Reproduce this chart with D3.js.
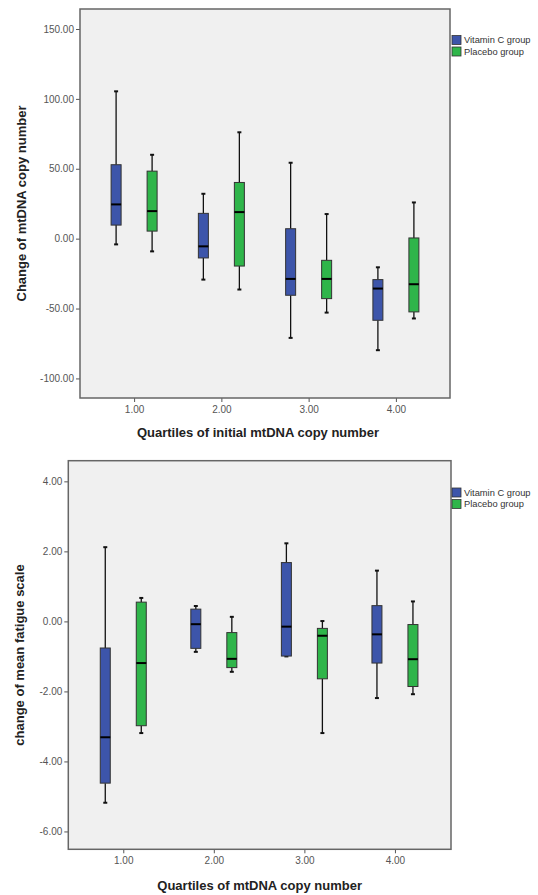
<!DOCTYPE html>
<html>
<head>
<meta charset="utf-8">
<script src="https://cdn.jsdelivr.net/npm/d3@7"></script>
<style>
  html, body { margin: 0; padding: 0; background: #fff; }
  svg { display: block; font-family: "Liberation Sans", Arial, sans-serif; }
</style>
</head>
<body>
<svg id="chart" width="538" height="895"></svg>
<script>
// ---- DATA ----
const categories = [1, 2, 3, 4];
const groups = ["Vitamin C group", "Placebo group"];
// each entry: [min, q1, median, q3, max]
const topVitaminC = [
  [-4.1, 9.7, 24.5, 52.9, 105.4],
  [-29.3, -13.8, -5.5, 18.1, 32.1],
  [-71.0, -40.5, -28.8, 7.1, 54.3],
  [-79.8, -58.4, -35.7, -29.3, -20.5]
];
const topPlacebo = [
  [-9.1, 5.4, 19.7, 48.3, 60.0],
  [-36.4, -19.6, 19.0, 40.2, 76.1],
  [-52.9, -42.9, -28.8, -15.5, 17.6],
  [-57.1, -52.4, -32.6, 0.5, 25.9]
];
const topYTicks = [-100, -50, 0, 50, 100, 150];
const bottomVitaminC = [
  [-5.18, -4.62, -3.31, -0.76, 2.12],
  [-0.87, -0.77, -0.08, 0.35, 0.44],
  [-1.00, -0.99, -0.15, 1.68, 2.23],
  [-2.19, -1.19, -0.37, 0.45, 1.45]
];
const bottomPlacebo = [
  [-3.19, -2.98, -1.19, 0.55, 0.67],
  [-1.44, -1.32, -1.07, -0.32, 0.13],
  [-3.19, -1.64, -0.41, -0.20, 0.01],
  [-2.08, -1.86, -1.08, -0.09, 0.57]
];
const bottomYTicks = [-6, -4, -2, 0, 2, 4];
const xTicks = [1, 2, 3, 4];
const topXTitle = "Quartiles of initial mtDNA copy number";
const topYTitle = "Change of mtDNA copy number";
const bottomXTitle = "Quartiles of mtDNA copy number";
const bottomYTitle = "change of mean fatigue scale";

// ---- STYLE ----
const colors = ["#3d55aa", "#2fb54a"];
const locale = d3.formatLocale({ decimal: ".", thousands: ",", grouping: [3], currency: ["", ""], minus: "-" });
const fmt = locale.format(".2f");
const svg = d3.select("#chart");

function drawPanel(cfg) {
  const g = svg.append("g");
  const x = d3.scaleLinear().domain(cfg.xDomain).range([cfg.left, cfg.right]);
  const y = d3.scaleLinear().domain(cfg.yDomain).range([cfg.bottom, cfg.top]);

  // background
  g.append("rect")
    .attr("x", cfg.left).attr("y", cfg.top)
    .attr("width", cfg.right - cfg.left).attr("height", cfg.bottom - cfg.top)
    .attr("fill", "#f0f0f0");

  // y axis
  const ya = g.append("g").attr("transform", `translate(${cfg.left},0)`)
    .call(d3.axisLeft(y).tickValues(cfg.yTicks).tickFormat(fmt).tickSize(4).tickPadding(2));
  ya.select(".domain").remove();
  ya.selectAll(".tick line").attr("stroke", "#555");
  ya.selectAll(".tick text").attr("fill", "#555").style("font-size", "10px");

  // x axis
  const xa = g.append("g").attr("transform", `translate(0,${cfg.bottom})`)
    .call(d3.axisBottom(x).tickValues(xTicks).tickFormat(fmt).tickSize(4).tickPadding(4));
  xa.select(".domain").remove();
  xa.selectAll(".tick line").attr("stroke", "#555");
  xa.selectAll(".tick text").attr("fill", "#555").style("font-size", "10px");

  // frame
  g.append("rect")
    .attr("x", cfg.left).attr("y", cfg.top)
    .attr("width", cfg.right - cfg.left).attr("height", cfg.bottom - cfg.top)
    .attr("fill", "none").attr("stroke", "#666").attr("stroke-width", 1.5);

  // boxes
  const offset = 18, bw = 10, cap = 2;
  [cfg.series[0], cfg.series[1]].forEach((ser, si) => {
    const dx = si === 0 ? -offset : offset;
    ser.forEach((d, i) => {
      const cx = x(categories[i]) + dx;
      const [mn, q1, md, q3, mx] = d;
      const bg = g.append("g");
      bg.append("line").attr("x1", cx).attr("x2", cx).attr("y1", y(mx)).attr("y2", y(q3))
        .attr("stroke", "#111").attr("stroke-width", 1.3);
      bg.append("line").attr("x1", cx).attr("x2", cx).attr("y1", y(q1)).attr("y2", y(mn))
        .attr("stroke", "#111").attr("stroke-width", 1.3);
      [mn, mx].forEach(v => {
        bg.append("line").attr("x1", cx - cap).attr("x2", cx + cap).attr("y1", y(v)).attr("y2", y(v))
          .attr("stroke", "#111").attr("stroke-width", 2);
      });
      bg.append("rect").attr("x", cx - bw / 2).attr("y", y(q3))
        .attr("width", bw).attr("height", Math.max(1, y(q1) - y(q3)))
        .attr("fill", colors[si]).attr("stroke", "#333").attr("stroke-width", 1);
      bg.append("line").attr("x1", cx - bw / 2).attr("x2", cx + bw / 2).attr("y1", y(md)).attr("y2", y(md))
        .attr("stroke", "#000").attr("stroke-width", 2);
    });
  });

  // titles
  g.append("text").attr("x", (cfg.left + cfg.right) / 2 + cfg.xTitleDx).attr("y", cfg.xTitleY)
    .attr("text-anchor", "middle").attr("font-weight", "bold").attr("font-size", "13px")
    .attr("fill", "#222").text(cfg.xTitle);
  g.append("text")
    .attr("transform", `translate(${cfg.yTitleX},${(cfg.top + cfg.bottom) / 2}) rotate(-90)`)
    .attr("text-anchor", "middle").attr("font-weight", "bold").attr("font-size", "13px")
    .attr("fill", "#222").text(cfg.yTitle);

  // legend
  const lg = g.append("g").attr("transform", `translate(452,${cfg.legendY})`);
  groups.forEach((name, i) => {
    const row = lg.append("g").attr("transform", `translate(0,${i * 11.5})`);
    row.append("rect").attr("x", 0).attr("y", -4.5).attr("width", 9).attr("height", 9)
      .attr("fill", colors[i]).attr("stroke", "#333").attr("stroke-width", 0.8);
    row.append("text").attr("x", 12).attr("y", 3.3).attr("font-size", "9.3px")
      .attr("fill", "#333").text(name);
  });
}

drawPanel({
  left: 80, right: 450, top: 9, bottom: 398,
  xDomain: [0.38, 4.62], yDomain: [-114, 164.3], yTicks: topYTicks,
  series: [topVitaminC, topPlacebo],
  xTitle: topXTitle, yTitle: topYTitle, xTitleY: 437, xTitleDx: -7, yTitleX: 26,
  legendY: 40
});

drawPanel({
  left: 68.3, right: 451, top: 460.7, bottom: 849.3,
  xDomain: [0.393, 4.619], yDomain: [-6.51, 4.59], yTicks: bottomYTicks,
  series: [bottomVitaminC, bottomPlacebo],
  xTitle: bottomXTitle, yTitle: bottomYTitle, xTitleY: 890, xTitleDx: 0, yTitleX: 24,
  legendY: 492.5
});
</script>
</body>
</html>
